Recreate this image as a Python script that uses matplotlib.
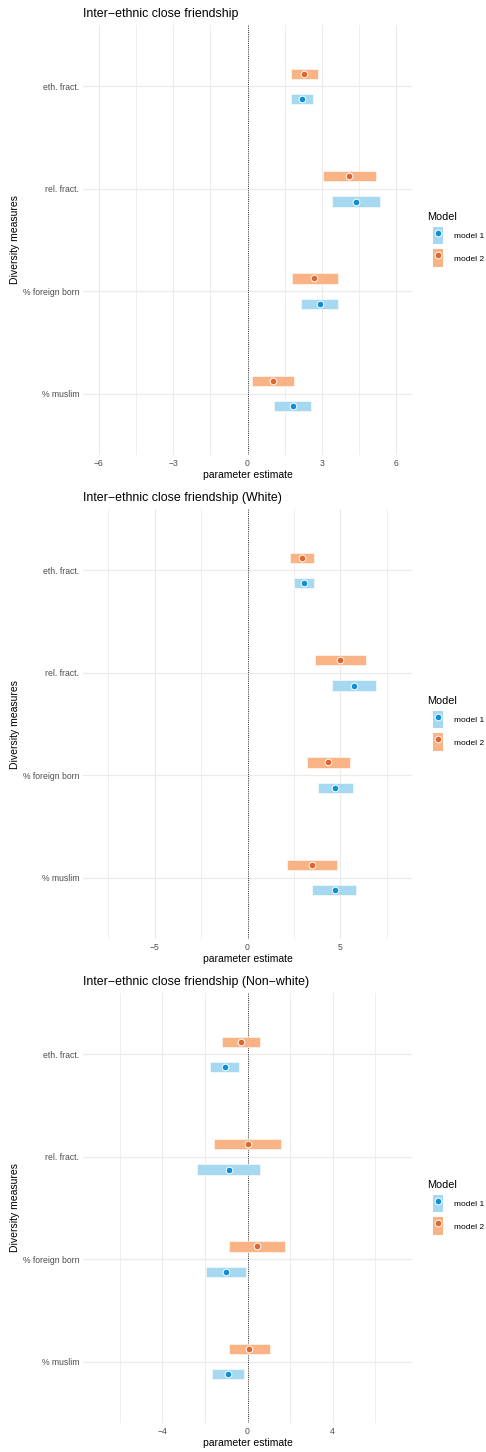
import matplotlib
matplotlib.use("Agg")
import matplotlib.pyplot as plt
from matplotlib.patches import Patch
from matplotlib.lines import Line2D
from matplotlib.ticker import FixedLocator

plt.rcParams['font.family'] = ['Liberation Sans', 'DejaVu Sans']

measures = ["eth. fract.", "rel. fract.", "% foreign born", "% muslim"]
models = ["model 1", "model 2"]

titles = ["Inter\u2212ethnic close friendship",
          "Inter\u2212ethnic close friendship (White)",
          "Inter\u2212ethnic close friendship (Non\u2212white)"]

# Panel 1
p1_m1_est = [2.21, 4.39, 2.93, 1.82]
p1_m1_lo = [1.76, 3.43, 2.18, 1.06]
p1_m1_hi = [2.66, 5.35, 3.67, 2.56]
p1_m2_est = [2.29, 4.10, 2.70, 1.01]
p1_m2_lo = [1.75, 3.04, 1.79, 0.17]
p1_m2_hi = [2.85, 5.18, 3.65, 1.86]

# Panel 2 (White)
p2_m1_est = [3.03, 5.73, 4.73, 4.68]
p2_m1_lo = [2.51, 4.55, 3.80, 3.49]
p2_m1_hi = [3.57, 6.92, 5.66, 5.86]
p2_m2_est = [2.94, 4.98, 4.35, 3.48]
p2_m2_lo = [2.29, 3.62, 3.21, 2.15]
p2_m2_hi = [3.58, 6.36, 5.50, 4.80]

# Panel 3 (Non-white)
p3_m1_est = [-1.07, -0.89, -1.02, -0.91]
p3_m1_lo = [-1.76, -2.37, -1.96, -1.66]
p3_m1_hi = [-0.38, 0.58, -0.06, -0.16]
p3_m2_est = [-0.31, 0.00, 0.44, 0.09]
p3_m2_lo = [-1.19, -1.57, -0.89, -0.86]
p3_m2_hi = [0.61, 1.58, 1.77, 1.07]

xlims = [6.63, 8.83, 7.72]
major_ticks = [[-6, -3, 0, 3, 6], [-5, 0, 5], [-4, 0, 4]]
minor_ticks = [[-4.5, -1.5, 1.5, 4.5], [-7.5, -2.5, 2.5, 7.5], [-6, -2, 2, 6]]

panels = [
    (p1_m1_est, p1_m1_lo, p1_m1_hi, p1_m2_est, p1_m2_lo, p1_m2_hi),
    (p2_m1_est, p2_m1_lo, p2_m1_hi, p2_m2_est, p2_m2_lo, p2_m2_hi),
    (p3_m1_est, p3_m1_lo, p3_m1_hi, p3_m2_est, p3_m2_lo, p3_m2_hi),
]

light = {"model 1": "#a6d9f1", "model 2": "#f9b385"}
dark = {"model 1": "#0f8fd6", "model 2": "#df662f"}

W, H = 486, 1452
fig = plt.figure(figsize=(W / 100, H / 100), dpi=100)
fig.patch.set_facecolor("white")

def rect(x0, y0, x1, y1):
    return [x0 / W, 1 - y1 / H, (x1 - x0) / W, (y1 - y0) / H]

offsets = [0, 484, 968]
grid_col = "#ebebeb"
n = len(measures)
ypos = [n - i for i in range(n)]

for k, (off, data) in enumerate(zip(offsets, panels)):
    m1e, m1l, m1h, m2e, m2l, m2h = data
    ax = fig.add_axes(rect(83.3, off + 25, 411.7, off + 455))
    ax.set_xlim(-xlims[k], xlims[k])
    ax.set_ylim(0.4, n + 0.6)
    for s in ax.spines.values():
        s.set_visible(False)
    ax.xaxis.set_major_locator(FixedLocator(major_ticks[k]))
    ax.xaxis.set_minor_locator(FixedLocator(minor_ticks[k]))
    ax.set_yticks(ypos)
    ax.set_yticklabels(measures)
    ax.tick_params(axis="both", which="both", length=0, labelsize=6.25,
                   labelcolor="#4d4d4d")
    ax.tick_params(axis="y", pad=3)
    ax.tick_params(axis="x", pad=3)
    ax.grid(True, axis="x", which="major", color=grid_col, lw=0.8)
    ax.grid(True, axis="x", which="minor", color=grid_col, lw=0.6)
    ax.grid(True, axis="y", which="major", color=grid_col, lw=0.9)
    ax.set_axisbelow(True)
    ax.axvline(0, color="black", lw=0.6, ls=(0, (1, 1.6)), zorder=2)

    for mname, est, lo, hi, dy in [("model 1", m1e, m1l, m1h, -0.125),
                                   ("model 2", m2e, m2l, m2h, 0.125)]:
        yy = [y + dy for y in ypos]
        widths = [h - l for l, h in zip(lo, hi)]
        ax.barh(yy, widths, left=lo, height=0.1, color=light[mname],
                edgecolor="white", lw=0.4, zorder=3)
        ax.plot(est, yy, ls="", marker="o", ms=4.8, mfc=dark[mname],
                mec="white", mew=0.7, zorder=4)

    ax.set_xlabel("parameter estimate", fontsize=7.5, labelpad=1.0)
    fig.text(83.3 / W, 1 - (off + 14) / H, titles[k], fontsize=8.9,
             ha="left", va="center", color="black")
    fig.text(15 / W, 1 - (off + 240) / H, "Diversity measures", fontsize=7.5,
             rotation=90, ha="center", va="center", color="black")

    fig.text(427 / W, 1 - (off + 217) / H, "Model", fontsize=7.8,
             ha="left", va="center", color="black")
    handles = [(Patch(facecolor=light[m], edgecolor="none"),
                Line2D([], [], ls="", marker="o", ms=4.8, mfc=dark[m],
                       mec="white", mew=0.7)) for m in models]
    fig.legend(handles, models, loc="upper left",
               bbox_to_anchor=(433 / W, 1 - (off + 227) / H),
               bbox_transform=fig.transFigure, frameon=False,
               fontsize=6.0,
               handlelength=1.2, handleheight=2.85, labelspacing=0.6,
               handletextpad=1.3, borderpad=0, borderaxespad=0)

fig.savefig("out.png", dpi=100, facecolor="white")
